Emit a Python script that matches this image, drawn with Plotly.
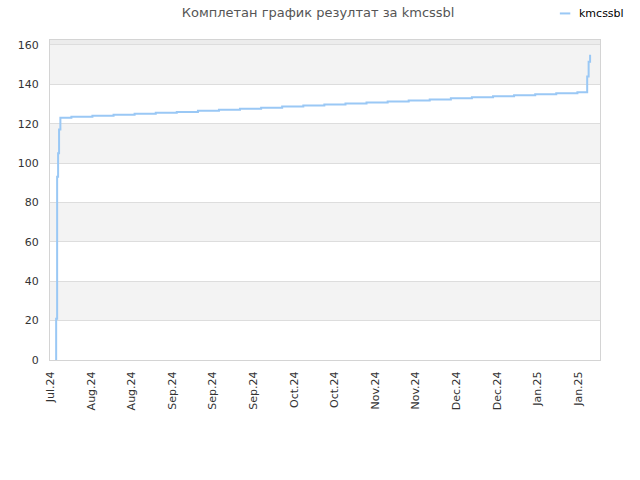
import plotly.graph_objects as go

# step points of the cumulative result line (hv shape)
dates = [
    '2024-07-23 00:00', '2024-07-23 00:00', '2024-07-23 08:00', '2024-07-23 16:00',
    '2024-07-24 00:00', '2024-07-24 11:00',
    '2024-07-28 06:00', '2024-08-04 12:00', '2024-08-11 19:00', '2024-08-19 01:00',
    '2024-08-26 08:00', '2024-09-02 14:00', '2024-09-09 21:00', '2024-09-17 03:00',
    '2024-09-24 09:00', '2024-10-01 16:00', '2024-10-08 22:00', '2024-10-16 05:00',
    '2024-10-23 11:00', '2024-10-30 18:00', '2024-11-07 00:00', '2024-11-14 07:00',
    '2024-11-21 13:00', '2024-11-28 19:00', '2024-12-06 02:00', '2024-12-13 08:00',
    '2024-12-20 15:00', '2024-12-27 21:00', '2025-01-04 04:00', '2025-01-11 10:00',
    '2025-01-18 17:00',
    '2025-01-22 02:00', '2025-01-22 14:00', '2025-01-23 02:00',
]
scores = [
    0, 21, 93, 105,
    117, 123.0,
    123.5, 124.0, 124.5, 125.0,
    125.5, 126.0, 126.6, 127.1,
    127.6, 128.1, 128.7, 129.2,
    129.7, 130.3, 130.8, 131.3,
    131.8, 132.3, 132.9, 133.4,
    133.9, 134.4, 135.0, 135.5,
    136.0,
    144.0, 151.5, 155.0,
]

tick_dates = [
    '2024-07-21', '2024-08-04', '2024-08-18', '2024-09-01', '2024-09-15',
    '2024-09-29', '2024-10-13', '2024-10-27', '2024-11-10', '2024-11-24',
    '2024-12-08', '2024-12-22', '2025-01-05', '2025-01-19',
]
y_ticks = [0, 20, 40, 60, 80, 100, 120, 140, 160]
player = 'kmcssbl'

FONT = 'DejaVu Sans, Verdana, sans-serif'
LINE_COLOR = '#9ac8f5'

fig = go.Figure()

fig.add_trace(go.Scatter(
    x=dates,
    y=scores,
    mode='lines',
    line=dict(color=LINE_COLOR, width=2, shape='hv'),
    name=player,
    showlegend=False,
))

# alternating grey bands between the grid lines
shapes = []
for lo, hi in zip(y_ticks[1::2], y_ticks[2::2]):
    shapes.append(dict(type='rect', xref='paper', yref='y', x0=0, x1=1, y0=lo, y1=hi,
                       fillcolor='#f3f3f3', line=dict(width=0), layer='below'))
shapes.append(dict(type='rect', xref='paper', yref='y', x0=0, x1=1, y0=160, y1=162.5,
                   fillcolor='#ececec', line=dict(width=0), layer='below'))

# small legend in the top right corner (short line sample + name)
shapes.append(dict(type='line', xref='paper', yref='paper', x0=0.927, x1=0.946, y0=1.083, y1=1.083,
                   line=dict(color=LINE_COLOR, width=2)))

fig.update_layout(
    width=640,
    height=480,
    margin=dict(l=50, r=40, t=40, b=120),
    paper_bgcolor='white',
    plot_bgcolor='white',
    font=dict(family=FONT, size=11, color='#333333'),
    title=dict(
        text=f'Комплетан график резултат за {player}',
        font=dict(family=FONT, size=13, color='#555555'),
        x=0.497, xanchor='center', y=0.975, yanchor='middle',
    ),
    showlegend=False,
    shapes=shapes,
    annotations=[dict(
        text=player, xref='paper', yref='paper', x=0.958, y=1.083,
        xanchor='left', yanchor='middle', showarrow=False,
        font=dict(family=FONT, size=11, color='#000000'),
    )],
    xaxis=dict(
        type='date',
        range=['2024-07-20 21:00', '2025-01-26 12:00'],
        tickvals=tick_dates,
        tickformat='%b.%y',
        tickangle=-90,
        showgrid=False,
        zeroline=False,
        showline=True,
        linecolor='#d4d4d4',
        mirror=True,
        ticks='',
        automargin=False,
        ticklabelstandoff=6,
        tickfont=dict(family=FONT, size=11, color='#333333'),
    ),
    yaxis=dict(
        range=[0, 162.5],
        tickvals=y_ticks,
        showgrid=True,
        gridcolor='#dddddd',
        zeroline=False,
        showline=True,
        linecolor='#d4d4d4',
        mirror=True,
        ticks='',
        automargin=False,
        ticklabelstandoff=8,
        tickfont=dict(family=FONT, size=11, color='#333333'),
    ),
)

# drop the default page margin so the figure sits at the window's top-left corner
fig.write_html("out.html", config={'displayModeBar': False},
               post_script="document.body.style.margin = '0';")
